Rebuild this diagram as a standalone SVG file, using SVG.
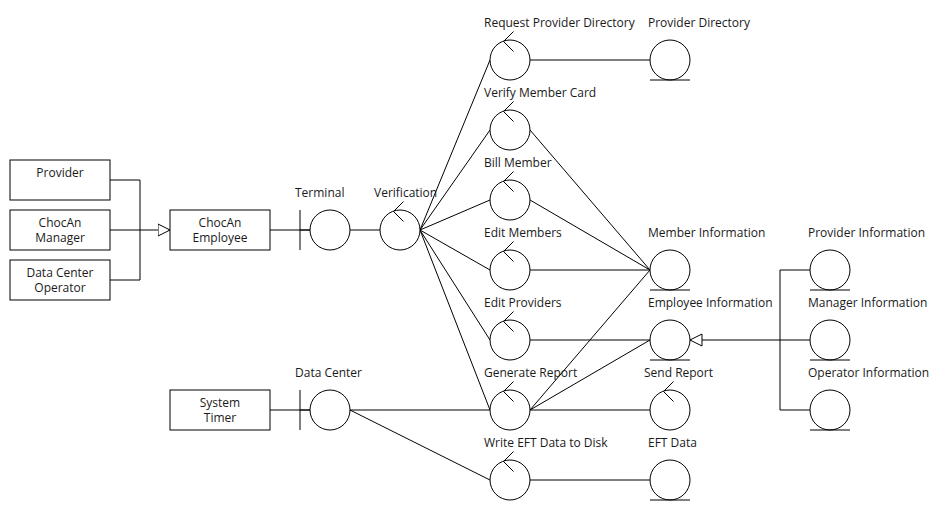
<svg xmlns="http://www.w3.org/2000/svg" xmlns:xlink="http://www.w3.org/1999/xlink" width="950" height="520" viewBox="0 0 950 520">
  <style>
    .ln { fill: none; stroke: #000; stroke-width: 1; }
    .shape { fill: #fff; stroke: #000; stroke-width: 1; }
    text { font-family: "Open Sans", "Noto Sans", "DejaVu Sans", sans-serif; font-size: 12px; fill: #1a1a1a; }
    .mid { text-anchor: middle; }
  </style>
  <defs>
    <!-- hollow generalization arrowhead -->
    <marker id="gen" markerUnits="userSpaceOnUse" markerWidth="14" markerHeight="14" viewBox="0 0 14 14" refX="12.5" refY="7" orient="auto">
      <path d="M0.5,1 L12.5,7 L0.5,13 Z" fill="#fff" stroke="#000" stroke-width="1"/>
    </marker>
    <!-- control object: circle with arrow on top -->
    <g id="control">
      <circle cx="0" cy="0" r="20" class="shape"/>
      <path d="M3.5,-28.5 L-6.5,-18.5 L3.5,-8.5" class="ln"/>
    </g>
    <!-- entity object: circle with base line -->
    <g id="entity">
      <circle cx="0" cy="0" r="20" class="shape"/>
      <path d="M-20,20 H20" class="ln"/>
    </g>
    <!-- boundary object: circle with side bar -->
    <g id="boundary">
      <circle cx="0" cy="0" r="20" class="shape"/>
      <path d="M-30,-20 V20 M-30,0 H-20" class="ln"/>
    </g>
  </defs>

  <g id="connectors">
    <path d="M110,180 H140 V280 H110" class="ln"/>
    <path d="M110,230 H170" class="ln" marker-end="url(#gen)"/>
    <path d="M270,230 H310" class="ln"/>
    <path d="M350,230 H380" class="ln"/>
    <path d="M420,230 L490,60 M420,230 L490,130 M420,230 L490,200 M420,230 L490,270 M420,230 L490,340 M420,230 L490,410" class="ln"/>
    <path d="M530,60 H650" class="ln"/>
    <path d="M530,130 L650,270 M530,200 L650,270 M530,270 L650,270 M530,410 L650,270" class="ln"/>
    <path d="M530,340 L650,340 M530,410 L650,340" class="ln"/>
    <path d="M530,410 H650" class="ln"/>
    <path d="M530,480 H650" class="ln"/>
    <path d="M270,410 H310" class="ln"/>
    <path d="M350,410 H490 M350,410 L490,480" class="ln"/>
    <path d="M810,270 H780 V410 H810" class="ln"/>
    <path d="M810,340 H690" class="ln" marker-end="url(#gen)"/>
  </g>

  <g id="provider">
    <rect x="10" y="160" width="100" height="40" class="shape"/>
    <text x="60" y="177" class="mid">Provider</text>
  </g>
  <g id="chocan-manager">
    <rect x="10" y="210" width="100" height="40" class="shape"/>
    <text class="mid"><tspan x="60" y="227">ChocAn</tspan><tspan x="60" y="242">Manager</tspan></text>
  </g>
  <g id="data-center-operator">
    <rect x="10" y="260" width="100" height="40" class="shape"/>
    <text class="mid"><tspan x="60" y="277">Data Center</tspan><tspan x="60" y="292">Operator</tspan></text>
  </g>
  <g id="chocan-employee">
    <rect x="170" y="210" width="100" height="40" class="shape"/>
    <text class="mid"><tspan x="220" y="227">ChocAn</tspan><tspan x="220" y="242">Employee</tspan></text>
  </g>
  <g id="system-timer">
    <rect x="170" y="390" width="100" height="40" class="shape"/>
    <text class="mid"><tspan x="220" y="407">System</tspan><tspan x="220" y="422">Timer</tspan></text>
  </g>

  <g id="terminal">
    <use xlink:href="#boundary" x="330" y="230"/>
    <text x="295" y="197">Terminal</text>
  </g>
  <g id="data-center">
    <use xlink:href="#boundary" x="330" y="410"/>
    <text x="295" y="377">Data Center</text>
  </g>
  <g id="verification">
    <use xlink:href="#control" x="400" y="230"/>
    <text x="374" y="197">Verification</text>
  </g>

  <g id="request-provider-directory">
    <use xlink:href="#control" x="510" y="60"/>
    <text x="484" y="27">Request Provider Directory</text>
  </g>
  <g id="verify-member-card">
    <use xlink:href="#control" x="510" y="130"/>
    <text x="484" y="97">Verify Member Card</text>
  </g>
  <g id="bill-member">
    <use xlink:href="#control" x="510" y="200"/>
    <text x="484" y="167">Bill Member</text>
  </g>
  <g id="edit-members">
    <use xlink:href="#control" x="510" y="270"/>
    <text x="484" y="237">Edit Members</text>
  </g>
  <g id="edit-providers">
    <use xlink:href="#control" x="510" y="340"/>
    <text x="484" y="307">Edit Providers</text>
  </g>
  <g id="generate-report">
    <use xlink:href="#control" x="510" y="410"/>
    <text x="484" y="377">Generate Report</text>
  </g>
  <g id="write-eft-data">
    <use xlink:href="#control" x="510" y="480"/>
    <text x="484" y="447">Write EFT Data to Disk</text>
  </g>

  <g id="provider-directory">
    <use xlink:href="#entity" x="670" y="60"/>
    <text x="648" y="27">Provider Directory</text>
  </g>
  <g id="member-information">
    <use xlink:href="#entity" x="670" y="270"/>
    <text x="648" y="237">Member Information</text>
  </g>
  <g id="employee-information">
    <use xlink:href="#entity" x="670" y="340"/>
    <text x="648" y="307">Employee Information</text>
  </g>
  <g id="send-report">
    <use xlink:href="#control" x="670" y="410"/>
    <text x="644" y="377">Send Report</text>
  </g>
  <g id="eft-data">
    <use xlink:href="#entity" x="670" y="480"/>
    <text x="648" y="447">EFT Data</text>
  </g>

  <g id="provider-information">
    <use xlink:href="#entity" x="830" y="270"/>
    <text x="808" y="237">Provider Information</text>
  </g>
  <g id="manager-information">
    <use xlink:href="#entity" x="830" y="340"/>
    <text x="808" y="307">Manager Information</text>
  </g>
  <g id="operator-information">
    <use xlink:href="#entity" x="830" y="410"/>
    <text x="808" y="377">Operator Information</text>
  </g>
</svg>
